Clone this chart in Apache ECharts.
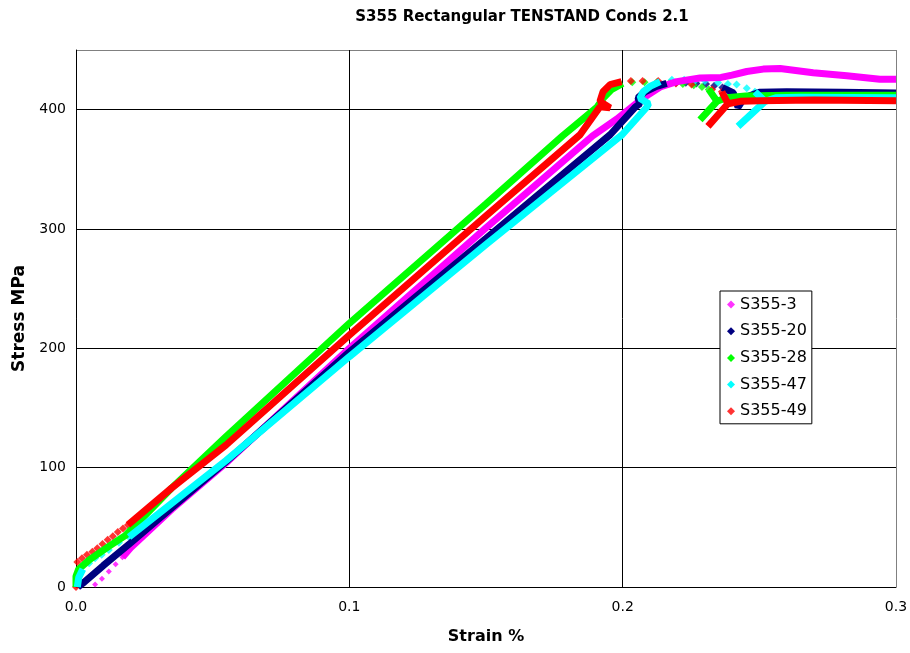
<!DOCTYPE html>
<html>
<head>
<meta charset="utf-8">
<script src="https://cdn.jsdelivr.net/npm/echarts@6/dist/echarts.min.js"></script>
<style>
html,body{margin:0;padding:0;background:#fff;}
#chart{width:910px;height:653px;}
</style>
</head>
<body>
<div id="chart"></div>
<script>
// ---- data (strain %, stress MPa) ----
var seriesNames = ['S355-3', 'S355-20', 'S355-28', 'S355-47', 'S355-49'];
var xTicks = [0, 0.1, 0.2, 0.3];
var yTicks = [0, 100, 200, 300, 400];

// S355-3
var s3Dots = [[0.007,2],[0.0095,7],[0.012,13],[0.0145,19],[0.017,25]];
var s3Band = [[0.017,25],[0.02,33],[0.035,65],[0.0549,104],[0.1,200],[0.15,301],[0.189,378],[0.1978,392],[0.2076,410],[0.2137,419],[0.2198,423.5],[0.2283,426.5],[0.236,427],[0.24,429],[0.2454,432],[0.2514,434],[0.2576,434.5],[0.2697,431],[0.282,428.5],[0.2941,425.5],[0.3,425.5]];

// S355-20
var s20Band = [[0.0007,0],[0.003,4],[0.01,18],[0.02,37],[0.0549,105],[0.1,197],[0.15,292],[0.1954,379],[0.2045,402],[0.2063,405],[0.2056,410],[0.2082,415],[0.2124,419.5],[0.2161,422]];
var s20Dots = [[0.2195,422.5],[0.2231,422.5],[0.227,422],[0.2305,421.5],[0.2335,420],[0.2365,418.5]];
var s20Band2 = [[0.2365,418.5],[0.2405,414],[0.2422,402],[0.2445,410],[0.25,414.5],[0.26,415],[0.28,414.5],[0.3,414]];

// S355-28
var s28Band = [[0,0],[0,9],[0.001,15],[0.005,23],[0.012,34],[0.018,43],[0.035,83],[0.0549,126],[0.1,221],[0.15,321],[0.178,378],[0.1906,402],[0.193,410],[0.196,417],[0.2,422]];
var s28Dots = [[0.2035,423],[0.208,423],[0.2125,423],[0.2173,422.5],[0.222,421.5],[0.226,420.5],[0.229,419],[0.2315,417]];
var s28Band2 = [[0.2315,417],[0.2345,407],[0.2283,391.5],[0.2345,407],[0.238,410],[0.245,411.5],[0.26,412],[0.3,412]];

// S355-47
var s47Band = [[0.0005,0],[0.001,8],[0.0025,15]];
var s47Dots = [[0.0048,20],[0.007,24],[0.0094,27],[0.012,31],[0.0157,37],[0.0194,42]];
var s47Band2 = [[0.0194,42],[0.0549,106],[0.1,193],[0.15,287],[0.1998,379],[0.2088,402],[0.2095,405],[0.2063,409.5],[0.2075,415],[0.21,419.5],[0.2137,423.5]];
var s47Dots2 = [[0.218,425],[0.2225,425],[0.2265,424.5],[0.2301,424],[0.2349,422.5],[0.2385,421.5],[0.2417,421],[0.2454,418],[0.2484,415]];
var s47Band3 = [[0.2484,415],[0.2521,407],[0.2422,386],[0.2521,407],[0.256,410],[0.265,410.5],[0.3,410]];

// S355-49
var s49Dots = [[0,0],[0.0005,21],[0.0022,24],[0.004,27],[0.006,29.5],[0.0078,32.5],[0.0097,36],[0.0116,39.5],[0.0135,42.5],[0.0153,46],[0.0172,49],[0.019,52]];
var s49Band = [[0.019,52],[0.035,83],[0.0549,119],[0.1,211],[0.15,311],[0.1844,379],[0.1917,402.5],[0.1954,401.5],[0.1917,407],[0.1928,415],[0.1954,421],[0.1996,423.5]];
var s49Dots2 = [[0.203,424],[0.2073,424],[0.213,424],[0.2195,422],[0.2252,421],[0.2327,417],[0.2363,415]];
var s49Band2 = [[0.2363,415],[0.2385,405],[0.2312,386],[0.2385,405],[0.243,407],[0.25,407.5],[0.27,408],[0.3,407.5]];

var colors = {'S355-3':'#FF00FF','S355-20':'#000080','S355-28':'#00FF00','S355-47':'#00FFFF','S355-49':'#FF0000'};

function band(name, data){
  return {name:name, type:'line', data:data, showSymbol:false, symbol:'diamond',
    lineStyle:{width:7, color:colors[name], join:'bevel'}, itemStyle:{color:colors[name]},
    animation:false, silent:true};
}
function dots(name, data, size){
  return {name:name, type:'scatter', data:data, symbol:'diamond', symbolSize:size || 8,
    itemStyle:{color:colors[name]}, animation:false, silent:true};
}

var series = [
  dots('S355-3', s3Dots, 6), band('S355-3', s3Band),
  band('S355-20', s20Band), dots('S355-20', s20Dots), band('S355-20', s20Band2),
  band('S355-28', s28Band), dots('S355-28', s28Dots), band('S355-28', s28Band2),
  band('S355-47', s47Band), dots('S355-47', s47Dots), band('S355-47', s47Band2), dots('S355-47', s47Dots2), band('S355-47', s47Band3),
  dots('S355-49', s49Dots), band('S355-49', s49Band), dots('S355-49', s49Dots2), band('S355-49', s49Band2)
];

var FONT = 'DejaVu Sans';
var chart = echarts.init(document.getElementById('chart'), null, {renderer:'canvas'});
chart.setOption({
  animation:false,
  backgroundColor:'#fff',
  title:{text:'S355 Rectangular TENSTAND Conds 2.1', left:517, top:5, textAlign:'center',
    textStyle:{fontFamily:FONT, fontWeight:'bold', fontSize:15, color:'#000'}},
  legend:{
    data:seriesNames.map(function(n){return {name:n, icon:'diamond', itemStyle:{color:colors[n]}};}),
    orient:'vertical', left:720, top:291, itemWidth:8, itemHeight:8, itemGap:9.7,
    padding:[5,5,4,7], backgroundColor:'#fff', borderColor:'#000', borderWidth:1, borderRadius:0,
    textStyle:{fontFamily:FONT, fontSize:16, color:'#000', lineHeight:17},
    selectedMode:false
  },
  grid:{left:76, right:14, top:50, bottom:66, show:false, containLabel:false, outerBoundsMode:'none'},
  xAxis:{type:'value', min:0, max:0.3, interval:0.1,
    name:'Strain %', nameLocation:'middle', nameGap:42,
    nameTextStyle:{fontFamily:FONT, fontWeight:'bold', fontSize:16, color:'#000'},
    axisLine:{show:true, onZero:false, lineStyle:{color:'#000', width:1}},
    axisTick:{show:false},
    axisLabel:{margin:13, fontFamily:FONT, fontSize:14, color:'#000', formatter:function(v){return v.toFixed(1);}},
    splitLine:{show:true, lineStyle:{color:['#000','#000','#000','#808080'], width:1}}
  },
  yAxis:{type:'value', min:0, max:450, interval:100,
    name:'Stress MPa', nameLocation:'middle', nameGap:48,
    nameTextStyle:{fontFamily:FONT, fontWeight:'bold', fontSize:17, color:'#000'},
    axisLine:{show:true, onZero:false, lineStyle:{color:'#000', width:1}},
    axisTick:{show:false},
    axisLabel:{margin:10, fontFamily:FONT, fontSize:14, color:'#000', showMaxLabel:false,
      formatter:function(v){return v>400?'':String(v);}},
    splitLine:{show:true, lineStyle:{color:['#000','#000','#000','#000','#000','#808080'], width:1}}
  },
  series:series
});
</script>
</body>
</html>
